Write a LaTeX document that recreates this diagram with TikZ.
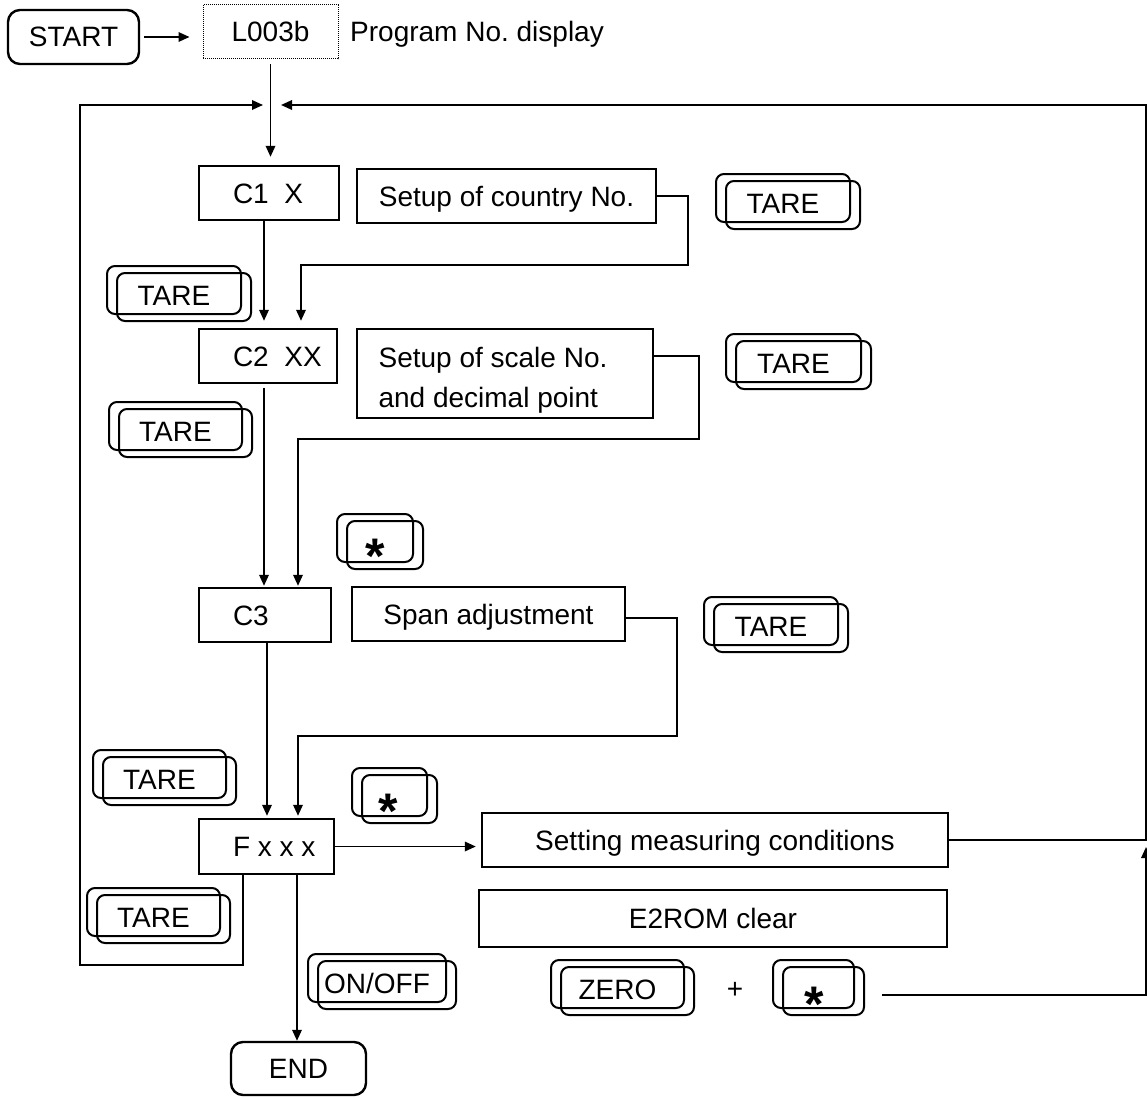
\documentclass[tikz,border=0pt]{standalone}
\usepackage{fontspec}
\setmainfont{Liberation Sans}
\usetikzlibrary{arrows.meta}
\frenchspacing
\tikzset{
  txt/.style={font=\fontsize{28}{34}\selectfont, inner sep=0pt},
  one/.style={text height=20pt, text depth=0pt},
  mbox/.style={draw, line width=2.4pt, rectangle},
  rbox/.style={mbox, rounded corners=12pt},
  dbox/.style={draw, line width=1pt, densely dotted, rectangle},
  keyline/.style={line width=2pt, rounded corners=8pt},
  conn/.style={line width=1.8pt},
  arr/.style={conn, -{Triangle[length=11pt,width=9.5pt]}},
  astk/.style={font=\fontsize{50}{50}\selectfont\bfseries, inner sep=0pt, anchor=base},
}
\newcommand\keybox[5]{%
  \draw[keyline] (#2,#3) rectangle ++(#4,48);
  \draw[keyline] ({#2+10},{#3+7}) rectangle ++(#4,48);
  \node[txt,one] (#1) at ({#2+#4/2},{#3+29}) {#5};}
\newcommand\starkey[6]{%
  \draw[keyline] (#2,#3) rectangle ++(#4,48);
  \draw[keyline] ({#2+10},{#3+7}) rectangle ++(#4,48);
  \node[astk] (#1) at (#5,{#6+27}) {*};}
\begin{document}
\frenchspacing
\begin{tikzpicture}[x=1pt,y=-1pt]
\useasboundingbox (0,0) rectangle (1147,1097);

% main nodes
\node[txt,one,rbox,minimum width=131,minimum height=54] (start) at (73.5,37) {START};
\node[txt,one,dbox,minimum width=135,minimum height=54] (l003) at (270.5,32) {L003b};
\node[txt,one,anchor=west] (prog) at (350,32) {Program No.\ display};

\node[txt,one,mbox,minimum width=140,minimum height=54] (c1) at (269,193) {\makebox[72pt][l]{C1\ \ X}};
\node[txt,one,mbox,minimum width=138,minimum height=54] (c2) at (268,356) {\makebox[70pt][l]{C2\ \ XX}};
\node[txt,one,mbox,minimum width=132,minimum height=54] (c3) at (265,615) {\makebox[64pt][l]{C3}};
\node[txt,one,mbox,minimum width=135,minimum height=55] (fx) at (266.5,846.5) {\makebox[67pt][l]{F x x x}};

\node[txt,one,mbox,minimum width=299,minimum height=54] (country) at (506.5,196) {Setup of country No.};
\node[txt,mbox,minimum width=296,minimum height=89] (scale) at (505,373.5)
  {\raisebox{-7.25pt}[\height][\depth]{\parbox{252.8pt}{\raggedright\fontsize{28}{40}\selectfont Setup of scale No.\\and decimal point}}};
\node[txt,one,mbox,minimum width=273,minimum height=54] (span) at (488.5,614) {Span adjustment};
\node[txt,one,mbox,minimum width=466,minimum height=54] (setting) at (715,840) {Setting measuring conditions};
\node[txt,one,mbox,minimum width=468,minimum height=57] (e2rom) at (713,918.5) {E2ROM clear};
\node[txt,one,rbox,minimum width=135,minimum height=53] (end) at (298.5,1068.5) {END};
\node[txt,one] (plus) at (735,988) {+};

% keys
\keybox{kl1}{107}{266}{134}{TARE}
\keybox{kl2}{109}{402}{133}{TARE}
\keybox{kl3}{93}{750}{133}{TARE}
\keybox{kl4}{87}{888}{133}{TARE}
\keybox{kr1}{716}{174}{134}{TARE}
\keybox{kr2}{726}{334}{135}{TARE}
\keybox{kr3}{704}{597}{134}{TARE}
\keybox{kon}{308}{954}{138}{ON/OFF}
\keybox{kzero}{551}{960}{133}{ZERO}
\starkey{ks1}{337}{514}{76}{375}{546}
\starkey{ks2}{352}{768}{75}{388}{801}
\starkey{ks3}{773}{960}{81}{814}{994}

% free-end coordinates
\coordinate (jl) at (263,105);
\coordinate (jr) at (281,105);
\coordinate (zs) at (882,995);
\coordinate (zt) at (1146,847);

% connectors
\draw[arr,shorten <=4pt,shorten >=13pt] (start.east) -- (start.east -| l003.west);
\draw[arr,shorten <=5pt,shorten >=8pt] (l003.south) -- (l003.south |- c1.north);
\draw[arr,shorten >=7pt] ([xshift=-5pt]c1.south) -- ([xshift=-5pt]c1.south |- c2.north);
\draw[arr,shorten >=7pt] (country.east) -- (688,196) -- (688,265) -- (301,265) -- (c2.north -| 301,0);
\draw[arr,shorten <=4pt,shorten >=1pt] ([xshift=-4pt]c2.south) -- ([xshift=-4pt]c2.south |- c3.north);
\draw[arr,shorten >=1pt] ([yshift=17.5pt]scale.east) -- (699,356) -- (699,439) -- (298,439) -- (c3.north -| 298,0);
\draw[arr,shorten >=2pt] ([xshift=2pt]c3.south) -- ([xshift=2pt]c3.south |- fx.north);
\draw[arr,shorten >=2pt] ([yshift=-4pt]span.east) -- (677,618) -- (677,736) -- (298,736) -- (fx.north -| 298,0);
\draw[arr,shorten >=5pt] (fx.east) -- (fx.east -| setting.west);
\draw[arr] ([xshift=30.5pt]fx.south) -- ([xshift=30.5pt]fx.south |- end.north);
\draw[arr] ([xshift=-23.5pt]fx.south) -- (243,965) -- (80,965) -- (80,105) -- (jl);
\draw[arr] (setting.east) -- (1146,840) -- (1146,105) -- (jr);
\draw[arr] (zs) -- (1146,995) -- (zt);
\end{tikzpicture}
\end{document}
